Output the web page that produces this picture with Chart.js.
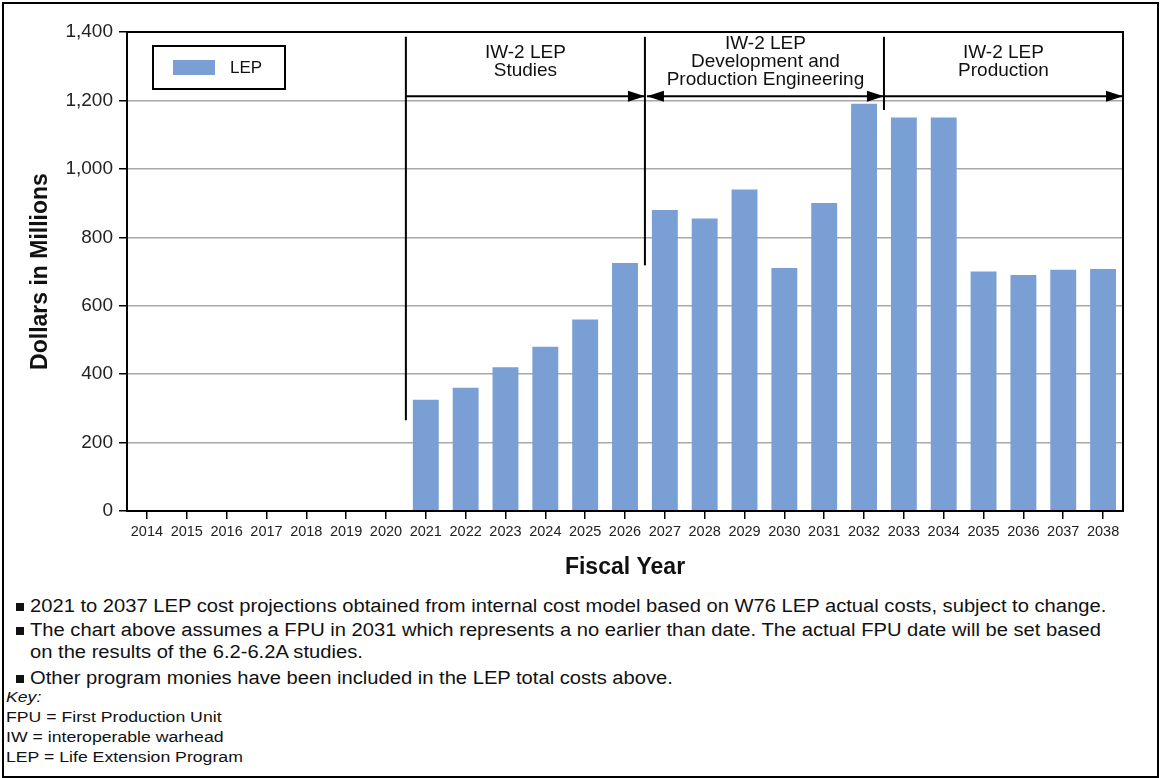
<!DOCTYPE html>
<html>
<head>
<meta charset="utf-8">
<script src="https://cdn.jsdelivr.net/npm/chart.js@4.4.1/dist/chart.umd.min.js"></script>
<style>
  html, body { margin:0; padding:0; background:#fff; }
  body { width:1161px; height:778px; position:relative; overflow:hidden; font-family:"Liberation Sans", Arial, sans-serif; color:#111; }
  #frame { position:absolute; left:2px; top:2px; width:1153px; height:772px; border:2px solid #000; box-sizing:content-box; pointer-events:none; }
  #wrap { position:absolute; left:0; top:0; width:1161px; height:590px; }
  #notes { position:absolute; left:0; top:594px; width:1161px; }
  .t { position:absolute; left:30px; font-size:18px; line-height:22px; white-space:nowrap; transform:scaleX(1.12); transform-origin:0 0; }
  .sq { position:absolute; left:16px; width:8px; height:8px; background:#111; }
  .k { position:absolute; left:6px; font-size:15.5px; line-height:18px; white-space:nowrap; transform:scaleX(1.14); transform-origin:0 0; }
</style>
</head>
<body>
<div id="wrap"><canvas id="c" width="1161" height="590"></canvas></div>
<div id="notes">
  <div class="sq" style="top:9px"></div>
  <div class="t" style="top:1px">2021 to 2037 LEP cost projections obtained from internal cost model based on W76 LEP actual costs, subject to change.</div>
  <div class="sq" style="top:33px"></div>
  <div class="t" style="top:25px">The chart above assumes a FPU in 2031 which represents a no earlier than date. The actual FPU date will be set based</div>
  <div class="t" style="top:47px">on the results of the 6.2-6.2A studies.</div>
  <div class="sq" style="top:81px"></div>
  <div class="t" style="top:73px">Other program monies have been included in the LEP total costs above.</div>
  <div class="k" style="top:94px; font-style:italic">Key:</div>
  <div class="k" style="top:114px">FPU = First Production Unit</div>
  <div class="k" style="top:134px">IW = interoperable warhead</div>
  <div class="k" style="top:154px">LEP = Life Extension Program</div>
</div>
<div id="frame"></div>
<script>
// ---- data ----
const years = ['2014','2015','2016','2017','2018','2019','2020','2021','2022','2023','2024','2025','2026',
               '2027','2028','2029','2030','2031','2032','2033','2034','2035','2036','2037','2038'];
const lepCosts = [null,null,null,null,null,null,null,325,360,420,480,560,725,
                  880,855,940,710,900,1190,1150,1150,700,690,705,707];
const yTicks = [0,200,400,600,800,1000,1200,1400];
// phase annotations: boundary year index (line drawn before that category), label lines
const phaseBoundaries = [7, 13, 19];             // before 2021, 2027, 2033
const phaseLineBottoms = [265, 718, 1172];       // value where each divider line ends
const phaseLabels = [
  ['IW-2 LEP','Studies'],
  ['IW-2 LEP','Development and','Production Engineering'],
  ['IW-2 LEP','Production']
];
const phaseArrowValue = 1212;
const phaseLineTop = 1386;

const FONT = '"Liberation Sans", Arial, sans-serif';
const BAR = '#7a9fd5';

const annot = {
  id:'annot',
  afterDatasetsDraw(chart){
    const {ctx, chartArea:a, scales:{x,y}} = chart;
    const xb = i => (x.getPixelForValue(i-1) + x.getPixelForValue(i)) / 2;
    ctx.save();
    // plot frame
    ctx.strokeStyle = '#000'; ctx.lineWidth = 2;
    ctx.strokeRect(a.left, a.top, a.right - a.left, a.bottom - a.top);
    // divider lines
    const xs = phaseBoundaries.map(xb);
    xs.forEach((px, i) => {
      ctx.beginPath(); ctx.moveTo(px, y.getPixelForValue(phaseLineTop));
      ctx.lineTo(px, y.getPixelForValue(phaseLineBottoms[i])); ctx.stroke();
    });
    const ay = y.getPixelForValue(phaseArrowValue);
    const head = (tipX, dir) => {
      ctx.beginPath(); ctx.moveTo(tipX, ay);
      ctx.lineTo(tipX - dir*17, ay - 5.5); ctx.lineTo(tipX - dir*17, ay + 5.5);
      ctx.closePath(); ctx.fill();
    };
    ctx.fillStyle = '#000';
    const ends = [[xs[0], xs[1]], [xs[1]+2, xs[2]], [xs[2], a.right]];
    ends.forEach(([s,e], i) => {
      ctx.beginPath(); ctx.moveTo(s, ay); ctx.lineTo(e, ay); ctx.stroke();
      head(e, 1);
      if (i === 1) head(s, -1);
    });
    // labels
    ctx.font = '19px ' + FONT; ctx.textAlign = 'center'; ctx.textBaseline = 'middle'; ctx.fillStyle = '#111';
    phaseLabels.forEach((lines, i) => {
      const cx = (ends[i][0] + ends[i][1]) / 2;
      const lh = 18;
      const startY = lines.length === 3 ? a.top + 12 : a.top + 21;
      lines.forEach((t, j) => ctx.fillText(t, cx, startY + j*lh));
    });
    // legend box
    const lx = a.left + 26, ly = a.top + 14;
    ctx.lineWidth = 2; ctx.strokeStyle = '#000';
    ctx.strokeRect(lx, ly, 132, 43);
    ctx.fillStyle = chart.data.datasets[0].backgroundColor;
    ctx.fillRect(lx + 20, ly + 14, 42, 15);
    ctx.fillStyle = '#111'; ctx.textAlign = 'left'; ctx.font = '17px ' + FONT;
    ctx.fillText(chart.data.datasets[0].label, lx + 77, ly + 22);
    ctx.restore();
  }
};

new Chart(document.getElementById('c'), {
  type:'bar',
  data:{ labels: years, datasets:[{ label:'LEP', data: lepCosts, backgroundColor: BAR,
          barPercentage:0.65, categoryPercentage:1.0 }] },
  options:{
    responsive:false, animation:false,
    layout:{ padding:{ left:0, top:32, right:38, bottom:0 } },
    plugins:{ legend:{ display:false }, tooltip:{ enabled:false } },
    scales:{
      x:{
        offset:true,
        grid:{ display:true, drawOnChartArea:false, drawTicks:true, tickLength:8, offset:false, color:'#000', lineWidth:1.5 },
        border:{ display:true, color:'#000', width:2 },
        ticks:{ font:{ family:FONT, size:14.5 }, color:'#222', maxRotation:0, autoSkip:false, padding:4 },
        title:{ display:true, text:'Fiscal Year', font:{ family:FONT, size:23, weight:'bold' }, color:'#111', padding:{ top:0, bottom:9 } },
        afterFit: s => { s.height = 79; }
      },
      y:{
        min:0, max:1400,
        afterBuildTicks: s => { s.ticks = yTicks.map(v => ({ value:v })); },
        ticks:{ font:{ family:FONT, size:19 }, color:'#222', padding:6,
                callback: v => v.toLocaleString('en-US') },
        grid:{ color:'#a8a8a8', lineWidth:1.5, tickColor:'#000', tickLength:8, drawTicks:true },
        border:{ display:true, color:'#000', width:2 },
        title:{ display:true, text:'Dollars in Millions', font:{ family:FONT, size:23, weight:'bold' }, color:'#111', padding:{ top:27, bottom:0 } },
        afterFit: s => { s.width = 127; }
      }
    }
  },
  plugins:[annot]
});
</script>
</body>
</html>
